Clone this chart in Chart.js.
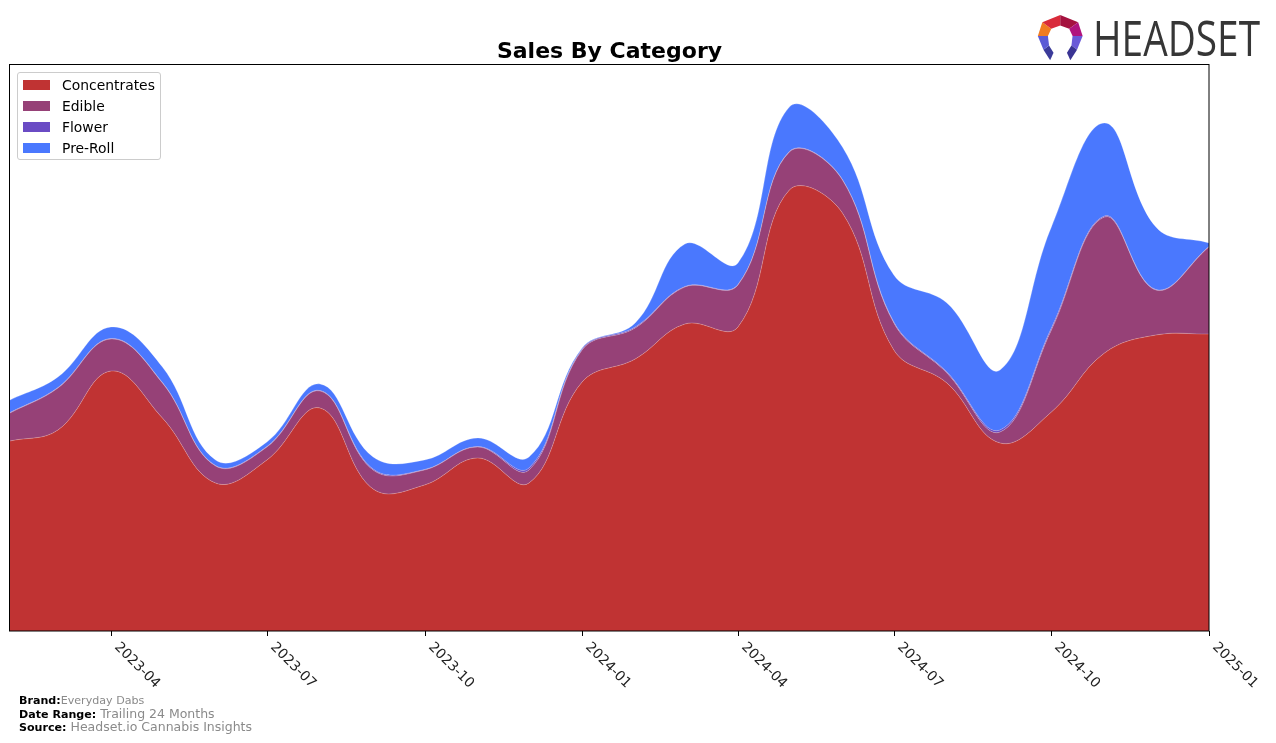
<!DOCTYPE html>
<html>
<head>
<meta charset="utf-8">
<script src="https://cdn.jsdelivr.net/npm/chart.js@4.4.1/dist/chart.umd.min.js"></script>
<style>
  html, body { margin: 0; padding: 0; background: #fff; }
  #wrap { position: relative; width: 1276px; height: 743px; overflow: hidden; font-family: "DejaVu Sans", sans-serif; }
  #c { position: absolute; left: 0; top: 0; }
  #title { position: absolute; left: 0; width: 1219px; top: 40px; text-align: center; font: bold 22px "DejaVu Sans", sans-serif; line-height: 22px; color: #000; }
  #legend { position: absolute; left: 17px; top: 72px; width: 142px; height: 86px; border: 1px solid #cccccc; border-radius: 3px; background: rgba(255,255,255,0.85); }
  .lrow { position: absolute; left: 5px; height: 20px; display: flex; align-items: center; font: 13.9px "DejaVu Sans", sans-serif; color: #000; white-space: nowrap; }
  .patch { width: 27px; height: 10px; margin-right: 12px; }
  .foot { position: absolute; left: 19px; height: 13px; line-height: 13px; white-space: nowrap; }
  .foot b { font: bold 11.1px "DejaVu Sans", sans-serif; color: #000; }
  .foot span { color: #8a8a8a; font-family: "DejaVu Sans", sans-serif; }
  #logo { position: absolute; left: 1030px; top: 5px; }
</style>
</head>
<body>
<div id="wrap">
  <canvas id="c" width="1276" height="743"></canvas>
  <div id="title">Sales By Category</div>
  <div id="legend"></div>
  <div class="foot" style="top:692px"><b>Brand:</b><span style="font-size:11.1px">Everyday Dabs</span></div>
  <div class="foot" style="top:706px"><b>Date Range:</b><span style="font-size:12.5px"> Trailing 24 Months</span></div>
  <div class="foot" style="top:719px"><b>Source:</b><span style="font-size:12.5px"> Headset.io Cannabis Insights</span></div>
  <svg id="logo" width="246" height="65" viewBox="0 0 246 65">
    <g transform="translate(0,5.8) scale(1.12,1.05)">
      <polygon points="18,47 12,37 17,33 21,40" fill="#3b3b9a"/>
      <polygon points="12,37 7,24 16,24 17,33" fill="#5b5bd6"/>
      <polygon points="7,24 11,11 19,17 16,24" fill="#f07c22"/>
      <polygon points="11,11 27,4 27,14 19,17" fill="#d92b3a"/>
      <polygon points="27,4 43,11 35,17 27,14" fill="#a5123f"/>
      <polygon points="43,11 47,24 38,24 35,17" fill="#b0147e"/>
      <polygon points="47,24 42,37 37,33 38,24" fill="#6a5ad8"/>
      <polygon points="42,37 36,47 33,40 37,33" fill="#3a3494"/>
    </g>
    <text x="63" y="51" font-family="Open Sans, DejaVu Sans, sans-serif" font-size="50" fill="#363636" textLength="167" lengthAdjust="spacingAndGlyphs">HEADSET</text>
  </svg>
</div>
<script>
// ---- data ----
const months = ['2023-02','2023-03','2023-04','2023-05','2023-06','2023-07','2023-08','2023-09','2023-10','2023-11','2023-12',
                '2024-01','2024-02','2024-03','2024-04','2024-05','2024-06','2024-07','2024-08','2024-09','2024-10','2024-11','2024-12','2025-01'];
const concentrates = [190,201,260,213,148,171,223,142,146,173,148,249,272,307,304,441,418,281,248,188,219,278,296,297];
const edible       = [28,42,32,35,17,13,17,19,15,11,13,32,31,37,42,38,33,27,10,11,82,136,45,87];
const flower       = [0.5,0.5,0.5,0.5,0.5,0.5,0.5,1,0.5,0.5,2,1,1,0.5,0.5,0.5,0.5,1,1,2,2,1,0.5,0.5];
const preRoll      = [12.5,10.5,11.5,15.5,5.5,4.5,6.5,12,9.5,8.5,11,1,4,42.5,21.5,44.5,32.5,47,69,60,101,93,62.5,3.5];
const tickLabels = ['2023-04','2023-07','2023-10','2024-01','2024-04','2024-07','2024-10','2025-01'];
const seriesNames = ['Concentrates','Edible','Flower','Pre-Roll'];
const seriesColors = ['#c03333','#964177','#6a4bc4','#4a78fe'];

const base = Date.UTC(2023, 1, 1);
function dayOf(label) {
  const [y, m] = label.split('-').map(Number);
  return (Date.UTC(y, m - 1, 1) - base) / 86400000;
}
const xs = months.map(dayOf);
const seriesValues = [concentrates, edible, flower, preRoll];

// legend (HTML)
const lg = document.getElementById('legend');
seriesNames.forEach((n, i) => {
  const r = document.createElement('div');
  r.className = 'lrow';
  r.style.top = (2 + 21 * i) + 'px';
  r.innerHTML = '<div class="patch" style="background:' + seriesColors[i] + '"></div>' + n;
  lg.appendChild(r);
});

const datasets = seriesValues.map((vals, i) => ({
  label: seriesNames[i],
  data: vals.map((v, j) => ({ x: xs[j], y: v })),
  backgroundColor: seriesColors[i],
  borderColor: 'rgba(255,255,255,0.28)',
  borderWidth: 0.8,
  fill: i === 0 ? 'origin' : '-1',
  pointRadius: 0,
  tension: 0.4
}));

const framePlugin = {
  id: 'frame',
  afterDraw(chart) {
    const ctx = chart.ctx;
    const a = chart.chartArea;
    const xScale = chart.scales.x;
    ctx.save();
    ctx.strokeStyle = '#000';
    ctx.lineWidth = 1;
    ctx.strokeRect(Math.round(a.left) - 0.5, Math.round(a.top) - 0.5, Math.round(a.right - a.left) + 0.5, Math.round(a.bottom - a.top) + 0.5);
    ctx.fillStyle = '#222';
    ctx.font = '13.9px "DejaVu Sans", sans-serif';
    ctx.textBaseline = 'top';
    ctx.textAlign = 'left';
    tickLabels.forEach(t => {
      const px = Math.round(xScale.getPixelForValue(dayOf(t)));
      ctx.beginPath();
      ctx.moveTo(px + 0.5, a.bottom);
      ctx.lineTo(px + 0.5, a.bottom + 5);
      ctx.stroke();
      ctx.save();
      ctx.translate(px + 10.5, a.bottom + 9);
      ctx.rotate(Math.PI / 4);
      ctx.fillText(t, 0, 0);
      ctx.restore();
    });
    ctx.restore();
  }
};

new Chart(document.getElementById('c'), {
  type: 'line',
  data: { datasets },
  options: {
    responsive: false,
    animation: false,
    layout: { padding: { left: 10, top: 65, right: 67, bottom: 112 } },
    plugins: { legend: { display: false }, title: { display: false }, tooltip: { enabled: false } },
    scales: {
      x: { type: 'linear', min: 0, max: dayOf('2025-01'), display: false },
      y: { stacked: true, min: 0, max: 566, display: false }
    }
  },
  plugins: [framePlugin]
});
</script>
</body>
</html>
